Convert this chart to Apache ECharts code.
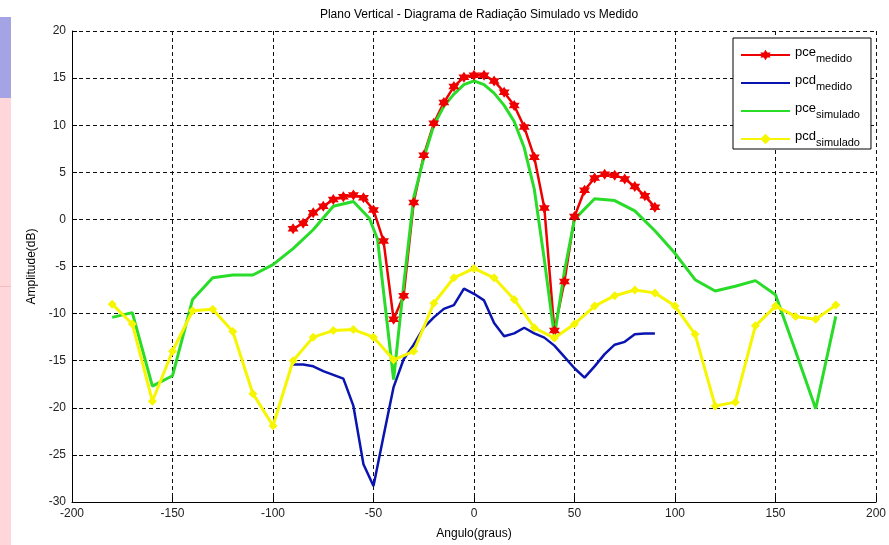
<!DOCTYPE html>
<html>
<head>
<meta charset="utf-8">
<script src="https://cdn.jsdelivr.net/npm/echarts@6/dist/echarts.min.js"></script>
<style>
html,body{margin:0;padding:0;background:#fff;}
#chart{width:889px;height:545px;}
</style>
</head>
<body>
<div id="chart"></div>
<script>
// ---- data ----
const titleText = 'Plano Vertical - Diagrama de Radiação Simulado vs Medido';
const xAxisName = 'Angulo(graus)';
const yAxisName = 'Amplitude(dB)';
const seriesNames = ['pce_medido', 'pcd_medido', 'pce_simulado', 'pcd_simulado'];

const medidoAngles = [-90,-85,-80,-75,-70,-65,-60,-55,-50,-45,-40,-35,-30,-25,-20,-15,-10,-5,0,5,10,15,20,25,30,35,40,45,50,55,60,65,70,75,80,85,90];
const pceMedido = [-1.0,-0.4,0.7,1.4,2.1,2.4,2.6,2.3,1.0,-2.3,-10.6,-8.1,1.8,6.8,10.2,12.4,14.1,15.1,15.3,15.3,14.7,13.5,12.1,9.8,6.6,1.2,-11.8,-6.6,0.3,3.1,4.4,4.8,4.7,4.3,3.5,2.5,1.3];
const pcdMedido = [-15.4,-15.4,-15.6,-16.1,-16.5,-16.9,-19.8,-26.0,-28.3,-23.0,-17.8,-14.85,-13.3,-11.5,-10.4,-9.5,-9.1,-7.35,-7.9,-8.6,-11.0,-12.4,-12.1,-11.5,-12.1,-12.55,-13.4,-14.6,-15.8,-16.8,-15.6,-14.3,-13.3,-13.0,-12.2,-12.1,-12.1];

const pceSimAngles = [-180,-170,-160,-150,-140,-130,-120,-110,-100,-90,-80,-70,-60,-52,-48,-40,-35,-30,-25,-20,-15,-10,-5,0,5,10,15,20,25,30,35,40,45,50,60,70,80,90,100,110,120,130,140,150,160,170,180];
const pceSimulado = [-10.4,-9.9,-17.7,-16.6,-8.5,-6.2,-5.9,-5.9,-4.8,-3.1,-1.1,1.4,1.9,0.1,-2.1,-17.0,-7.0,2.3,6.5,10.0,12.0,13.3,14.3,14.7,14.3,13.4,12.1,10.4,7.6,3.2,-4.3,-12.4,-5.5,0.0,2.2,2.0,0.9,-1.2,-3.6,-6.4,-7.6,-7.1,-6.5,-8.0,-14.0,-20.1,-10.3];

const pcdSimAngles = [-180,-170,-160,-150,-140,-130,-120,-110,-100,-90,-80,-70,-60,-50,-40,-30,-20,-10,0,10,20,30,40,50,60,70,80,90,100,110,120,130,140,150,160,170,180];
const pcdSimulado = [-9.0,-11.1,-19.3,-14.0,-9.7,-9.55,-11.9,-18.5,-21.9,-15.0,-12.5,-11.8,-11.7,-12.5,-14.9,-14.0,-8.9,-6.2,-5.2,-6.2,-8.5,-11.5,-12.6,-11.1,-9.2,-8.1,-7.5,-7.8,-9.2,-12.2,-19.8,-19.4,-11.3,-9.2,-10.3,-10.6,-9.1];

const xTicks = {min: -200, max: 200, interval: 50};
const yTicks = {min: -30, max: 20, interval: 5};

// ---- chart ----
const pairs = (xs, ys) => xs.map((x, i) => [x, ys[i]]);
const FONT = 'Liberation Sans, Arial, sans-serif';
const starPath = 'path://M0,-10 L2.9,-5 L8.66,-5 L5.8,0 L8.66,5 L2.9,5 L0,10 L-2.9,5 L-8.66,5 L-5.8,0 L-8.66,-5 L-2.9,-5 Z';

const chart = echarts.init(document.getElementById('chart'), null, {renderer: 'canvas'});
const gridLine = {show: true, lineStyle: {color: '#111', width: 1, type: [4, 3]}};

chart.setOption({
  animation: false,
  backgroundColor: '#fff',
  title: {
    text: titleText, left: 474, top: 4, textAlign: 'center',
    textStyle: {fontFamily: FONT, fontSize: 12, fontWeight: 'normal', color: '#000'}
  },
  graphic: [
    {type: 'rect', shape: {x: 0, y: 17, width: 11, height: 81}, style: {fill: '#a4a4e4'}, silent: true},
    {type: 'rect', shape: {x: 0, y: 98, width: 11, height: 447}, style: {fill: '#ffd6da'}, silent: true},
    {type: 'rect', shape: {x: 0, y: 286, width: 11, height: 1}, style: {fill: '#f4bcc0'}, silent: true}
  ],
  grid: {left: 72, right: 12, top: 31, bottom: 42, containLabel: false},
  legend: {
    orient: 'vertical', left: 733, top: 38,
    data: [
      {name: seriesNames[0]},
      {name: seriesNames[1], itemStyle: {opacity: 0}},
      {name: seriesNames[2], itemStyle: {opacity: 0}},
      {name: seriesNames[3]}
    ],
    backgroundColor: '#fff', borderColor: '#000', borderWidth: 1,
    padding: [8, 11, 1, 7],
    itemWidth: 49, itemHeight: 13, itemGap: 10,
    formatter: function (name) {
      const p = name.split('_');
      return '{m|' + p[0] + '}{s|' + p[1] + '}';
    },
    textStyle: {
      fontFamily: FONT, color: '#000',
      rich: {
        m: {fontFamily: FONT, fontSize: 13, color: '#000', verticalAlign: 'bottom', padding: [0, 0, 5, 0]},
        s: {fontFamily: FONT, fontSize: 11, color: '#000', verticalAlign: 'bottom'}
      }
    }
  },
  xAxis: {
    type: 'value', min: xTicks.min, max: xTicks.max, interval: xTicks.interval,
    name: xAxisName, nameLocation: 'middle', nameGap: 26,
    nameTextStyle: {fontFamily: FONT, fontSize: 12, color: '#000'},
    axisLine: {show: true, onZero: false, lineStyle: {color: '#000', width: 1}},
    axisTick: {show: true, inside: true, length: 5, lineStyle: {color: '#000'}},
    axisLabel: {fontFamily: FONT, fontSize: 12, color: '#222', margin: 6},
    splitLine: gridLine
  },
  yAxis: {
    type: 'value', min: yTicks.min, max: yTicks.max, interval: yTicks.interval,
    name: yAxisName, nameLocation: 'middle', nameGap: 34,
    nameTextStyle: {fontFamily: FONT, fontSize: 12, color: '#000'},
    axisLine: {show: true, onZero: false, lineStyle: {color: '#000', width: 1}},
    axisTick: {show: true, inside: true, length: 5, lineStyle: {color: '#000'}},
    axisLabel: {fontFamily: FONT, fontSize: 12, color: '#222', margin: 6},
    splitLine: gridLine
  },
  series: [
    {
      name: seriesNames[0], type: 'line', data: pairs(medidoAngles, pceMedido),
      color: '#ee0000', lineStyle: {width: 2.5, color: '#ee0000'},
      symbol: starPath, symbolSize: 11, itemStyle: {color: '#ee0000'}, showSymbol: true
    },
    {
      name: seriesNames[1], type: 'line', data: pairs(medidoAngles, pcdMedido),
      color: '#0a14b0', lineStyle: {width: 2.5, color: '#0a14b0'}, symbol: 'none'
    },
    {
      name: seriesNames[2], type: 'line', data: pairs(pceSimAngles, pceSimulado),
      color: '#28dc28', lineStyle: {width: 3, color: '#28dc28'}, symbol: 'none'
    },
    {
      name: seriesNames[3], type: 'line', data: pairs(pcdSimAngles, pcdSimulado),
      color: '#f6f600', lineStyle: {width: 3, color: '#f6f600'},
      symbol: 'diamond', symbolSize: 9, itemStyle: {color: '#f6f600'}, showSymbol: true
    }
  ]
});
</script>
</body>
</html>
